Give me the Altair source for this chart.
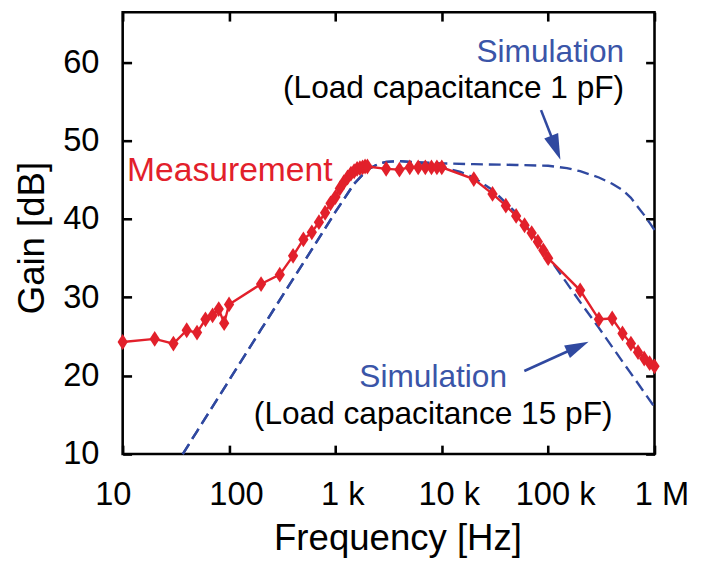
import altair as alt
import pandas as pd

FONT = "Liberation Sans"
RED = "#e2202b"
BLUE = "#3049a0"
TXT_BLUE = "#3a55a8"

# ---------------- data ----------------
meas_freq = [10, 20, 30, 40, 50, 60, 70, 80, 90, 100,
             200, 300, 400, 500, 600, 700, 800, 900, 1000,
             1100, 1200, 1300, 1400, 1500, 1600, 1700, 1800, 1900, 2000,
             3000, 4000, 5000, 6000, 7000, 8000, 9000, 10000,
             20000, 30000, 40000, 50000, 60000, 70000, 80000, 90000,
             100000, 200000, 300000, 400000, 500000, 600000, 700000, 800000, 900000, 1000000]
meas_gain = [24.3, 24.7, 24.1, 25.8, 25.5, 27.2, 27.7, 28.5, 26.7, 29.1,
             31.7, 32.9, 35.3, 37.4, 38.3, 39.6, 40.8, 42.0, 42.8,
             43.9, 44.7, 45.3, 45.8, 46.1, 46.4, 46.5, 46.6, 46.7, 46.7,
             46.4, 46.3, 46.6, 46.6, 46.6, 46.6, 46.6, 46.6,
             45.1, 43.2, 41.7, 40.4, 39.2, 38.2, 37.1, 36.0,
             35.0, 30.9, 27.2, 27.3, 25.4, 24.1, 23.0, 22.2, 21.6, 21.2]

sim15_freq = [36.7, 50, 100, 200, 500, 1000, 1500, 2000, 2500, 3000, 4000, 5000, 7000,
              10000, 15000, 20000, 30000, 50000, 70000, 100000, 200000, 300000,
              500000, 700000, 1000000]
sim15_gain = [10.0, 12.9, 19.4, 25.9, 34.4, 40.9, 44.5, 46.3, 47.0, 47.3, 47.4, 47.3, 47.0,
              46.6, 46.0, 45.3, 43.7, 40.8, 38.2, 35.2, 29.4, 26.1,
              21.8, 19.0, 16.0]

sim1_freq = [36.7, 50, 100, 200, 500, 1000, 1500, 2000, 2500, 3000, 4000, 5000,
             10000, 20000, 50000, 100000, 150000, 200000, 300000, 400000, 500000,
             600000, 700000, 800000, 900000, 1000000]
sim1_gain = [10.0, 12.9, 19.4, 25.9, 34.4, 40.9, 44.5, 46.3, 47.0, 47.3, 47.4, 47.3,
             47.1, 47.0, 46.9, 46.8, 46.5, 46.1, 45.3, 44.5, 43.7,
             42.7, 41.5, 40.5, 39.5, 38.6]

freq_ticks = [10, 100, 1000, 10000, 100000, 1000000]
freq_labels = ["10", "100", "1 k", "10 k", "100 k", "1 M"]
gain_ticks = [10, 20, 30, 40, 50, 60]

# annotations (placed in data coordinates)
ann_left_text = ["Measurement"]
ann_left_f = [11.0]
ann_left_g = [44.9]

ann_right_text = ["Simulation", "(Load capacitance 1 pF)"]
ann_right_f = [518000, 518000]
ann_right_g = [60.0, 55.4]
ann_right_color = [TXT_BLUE, "black"]

ann_center_text = ["Simulation", "(Load capacitance 15 pF)"]
ann_center_f = [8300, 8300]
ann_center_g = [18.5, 13.8]
ann_center_color = [TXT_BLUE, "black"]

arrow_f = [85700, 59700]
arrow_g = [53.9, 20.6]
arrow_f2 = [118000, 190000]
arrow_g2 = [49.1, 23.7]
arrow_angle = [159, 65]
arrow_size = [676, 576]

# ---------------- chart ----------------
W, H = 538, 447
xs = alt.Scale(type="log", domain=[10, 1000000], nice=False)
ys = alt.Scale(domain=[10, 66.4], nice=False, zero=False)

label_expr = "'" + freq_labels[-1] + "'"
for v, l in reversed(list(zip(freq_ticks[:-1], freq_labels[:-1]))):
    label_expr = f"datum.value < {v * 1.5} ? '{l}' : ({label_expr})"

x_label_axis = alt.Axis(
    values=freq_ticks, labelExpr=label_expr, ticks=False, tickSize=0, domain=False, grid=False,
    labelFont=FONT, labelFontSize=33, labelColor="black", labelPadding=25, labelFlush=False,
    labelOffset={"condition": {"test": "datum.value < 15", "value": -10}, "value": 7},
    title="Frequency [Hz]", titleFont=FONT, titleFontSize=37, titleFontWeight="normal",
    titleColor="black", titleX=278, titleY=97, titleBaseline="alphabetic", titleAlign="center",
)
y_label_axis = alt.Axis(
    values=gain_ticks, ticks=False, tickSize=0, domain=False, grid=False,
    labelFont=FONT, labelFontSize=33, labelColor="black", labelPadding=24,
    title="Gain [dB]", titleFont=FONT, titleFontSize=37, titleFontWeight="normal",
    titleColor="black", titleX=-80, titleY=228, titleAngle=270, titleBaseline="alphabetic",
    titleAlign="center",
)


def tick_axis(values, orient, offset):
    return alt.Axis(values=values, labels=False, domain=False, grid=False, title=None,
                    ticks=True, tickSize=9, tickWidth=2.6, tickColor="black",
                    orient=orient, offset=offset)


meas = pd.DataFrame({"f": meas_freq, "g": meas_gain})
s15 = pd.DataFrame({"f": sim15_freq, "g": sim15_gain})
s1 = pd.DataFrame({"f": sim1_freq, "g": sim1_gain})

sim15_line = alt.Chart(s15).mark_line(color=BLUE, strokeWidth=2.4, strokeDash=[12, 6]).encode(
    x=alt.X("f:Q", scale=xs, axis=tick_axis(freq_ticks, "top", -H)),
    y=alt.Y("g:Q", scale=ys, axis=tick_axis(gain_ticks, "right", -W)),
)
sim1_line = alt.Chart(s1).mark_line(color=BLUE, strokeWidth=2.4, strokeDash=[12, 6]).encode(
    x=alt.X("f:Q", scale=xs, axis=tick_axis(freq_ticks, "bottom", -H)),
    y=alt.Y("g:Q", scale=ys, axis=tick_axis(gain_ticks, "left", -W)),
)
meas_line = alt.Chart(meas).mark_line(color=RED, strokeWidth=2.4).encode(
    x=alt.X("f:Q", scale=xs, axis=x_label_axis),
    y=alt.Y("g:Q", scale=ys, axis=y_label_axis),
)
meas_pts = alt.Chart(meas).mark_point(
    shape="M0,-1L0.65,0L0,1L-0.65,0Z", filled=True, size=256, color=RED, opacity=1
).encode(
    x=alt.X("f:Q", scale=xs, axis=None),
    y=alt.Y("g:Q", scale=ys, axis=None),
)

arrows = pd.DataFrame({"f": arrow_f, "g": arrow_g, "f2": arrow_f2, "g2": arrow_g2,
                       "a": arrow_angle, "s": arrow_size})
arrow_shaft = alt.Chart(arrows).mark_rule(color=BLUE, strokeWidth=2.6).encode(
    x=alt.X("f:Q", scale=xs, axis=None), y=alt.Y("g:Q", scale=ys, axis=None),
    x2="f2:Q", y2="g2:Q",
)
arrow_head = alt.Chart(arrows).mark_point(
    shape="M0,-1L0.58,1L-0.58,1Z", filled=True, color=BLUE, opacity=1, strokeWidth=0
).encode(
    x=alt.X("f2:Q", scale=xs, axis=None), y=alt.Y("g2:Q", scale=ys, axis=None),
    angle=alt.Angle("a:Q", scale=None), size=alt.Size("s:Q", scale=None, legend=None),
)

t_left = alt.Chart(pd.DataFrame({"f": ann_left_f, "g": ann_left_g, "t": ann_left_text})).mark_text(
    align="left", baseline="alphabetic", font=FONT, fontSize=34, color=RED
).encode(x=alt.X("f:Q", scale=xs, axis=None), y=alt.Y("g:Q", scale=ys, axis=None), text="t:N")

t_right = alt.Chart(pd.DataFrame({"f": ann_right_f, "g": ann_right_g, "t": ann_right_text,
                                  "c": ann_right_color})).mark_text(
    align="right", baseline="alphabetic", font=FONT, fontSize=32
).encode(x=alt.X("f:Q", scale=xs, axis=None), y=alt.Y("g:Q", scale=ys, axis=None), text="t:N",
         color=alt.Color("c:N", scale=None))

t_center = alt.Chart(pd.DataFrame({"f": ann_center_f, "g": ann_center_g, "t": ann_center_text,
                                   "c": ann_center_color})).mark_text(
    align="center", baseline="alphabetic", font=FONT, fontSize=32
).encode(x=alt.X("f:Q", scale=xs, axis=None), y=alt.Y("g:Q", scale=ys, axis=None), text="t:N",
         color=alt.Color("c:N", scale=None))

chart = alt.layer(
    sim15_line, sim1_line, meas_line, meas_pts, arrow_shaft, arrow_head, t_left, t_right, t_center
).resolve_axis(x="independent", y="independent").properties(
    width=W, height=H,
    autosize=alt.AutoSizeParams(type="none"),
    padding={"left": 116, "top": 1, "right": 45, "bottom": 108},
).configure_view(stroke="black", strokeWidth=2.6)

chart.save("out.html", embed_options={"renderer": "svg", "actions": False})
